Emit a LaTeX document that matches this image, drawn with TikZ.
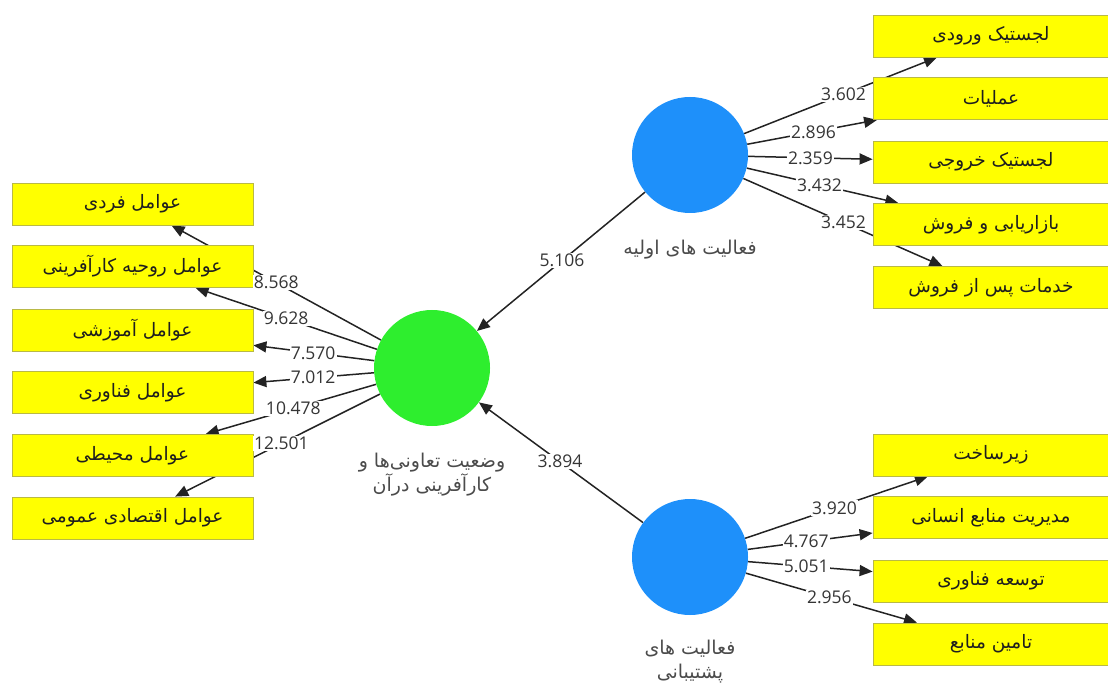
\documentclass[tikz,border=0pt]{standalone}
\usepackage{fontspec}
\usetikzlibrary{arrows.meta,calc}
\TeXXeTstate=1
\newfontfamily\fafont[Script=Arabic]{DejaVu Sans}
\newfontfamily\numfont{Open Sans}
\newcommand\rtl[1]{\beginR #1\endR}
\definecolor{boxyellow}{RGB}{255,255,0}
\definecolor{boxline}{RGB}{185,185,70}
\definecolor{lvgreen}{RGB}{46,238,46}
\definecolor{lvblue}{RGB}{30,144,250}
\definecolor{linecol}{RGB}{35,35,35}
\definecolor{txtcol}{RGB}{30,30,30}
\pgfdeclarelayer{edges}
\pgfsetlayers{edges,main}
\tikzset{
  indbox/.style={rectangle, draw=boxline, line width=0.8pt, fill=boxyellow,
    minimum width=241pt, minimum height=42pt, inner sep=0pt,
    font=\fafont\fontsize{18.5}{20}\selectfont, text=txtcol},
  rbox/.style={indbox, minimum width=236pt},
  lvnode/.style={circle, minimum size=116pt, inner sep=0pt},
  lvlabel/.style={align=center, font=\fafont\fontsize{19}{24}\selectfont, text=txtcol!80!white},
  wlabel/.style={fill=white, inner sep=1.2pt, font=\numfont\fontsize{17.5}{19}\selectfont, text=txtcol!90!white},
  conn/.style={draw=linecol, line width=1.5pt, -{Triangle[length=13pt,width=11pt]}},
}
\begin{document}
\begin{tikzpicture}[x=1pt,y=-1pt]
\useasboundingbox (0,0) rectangle (1108,684);
% latent variables
\node[lvnode, fill=lvgreen] (G) at (432,368) {};
\node[lvnode, fill=lvblue] (T) at (690,155) {};
\node[lvnode, fill=lvblue] (S) at (690,557) {};
\node[lvlabel] (Glab) at (432,475) {\rtl{وضعیت تعاونی‌ها و}\\\rtl{کارآفرینی درآن}};
\node[lvlabel] (Tlab) at (690,250) {\rtl{فعالیت های اولیه}};
\node[lvlabel] (Slab) at (690,662) {\rtl{فعالیت های}\\\rtl{پشتیبانی}};
% left indicators
\node[indbox] (L1) at (132.5,204) {\rtl{عوامل فردی}};
\node[indbox] (L2) at (132.5,266.5) {\rtl{عوامل روحیه کارآفرینی}};
\node[indbox] (L3) at (132.5,330) {\rtl{عوامل آموزشی}};
\node[indbox] (L4) at (132.5,392.5) {\rtl{عوامل فناوری}};
\node[indbox] (L5) at (132.5,455.5) {\rtl{عوامل محیطی}};
\node[indbox] (L6) at (132.5,518) {\rtl{عوامل اقتصادی عمومی}};
% right top indicators
\node[rbox] (R1) at (991,36) {\rtl{لجستیک ورودی}};
\node[rbox] (R2) at (991,98.5) {\rtl{عملیات}};
\node[rbox] (R3) at (991,162) {\rtl{لجستیک خروجی}};
\node[rbox] (R4) at (991,224.5) {\rtl{بازاریابی و فروش}};
\node[rbox] (R5) at (991,287.5) {\rtl{خدمات پس از فروش}};
% right bottom indicators
\node[rbox] (Q1) at (991,455) {\rtl{زیرساخت}};
\node[rbox] (Q2) at (991,517.5) {\rtl{مدیریت منابع انسانی}};
\node[rbox] (Q3) at (991,581) {\rtl{توسعه فناوری}};
\node[rbox] (Q4) at (991,644) {\rtl{تامین منابع}};
% connectors
\begin{pgfonlayer}{edges}
\foreach \b in {L1,L2,L3,L4,L5,L6} \draw[conn] (G) -- (\b);
\foreach \b in {R1,R2,R3,R4,R5} \draw[conn] (T) -- (\b);
\foreach \b in {Q1,Q2,Q3,Q4} \draw[conn] (S) -- (\b);
\draw[conn] (T) -- (G);
\draw[conn] (S) -- (G);
\end{pgfonlayer}
% weights
\node[wlabel] (w1) at ($(G)!0.52!(L1)$) {8.568};
\node[wlabel] (w2) at ($(G)!0.487!(L2)$) {9.628};
\node[wlabel] (w3) at ($(G)!0.397!(L3)$) {7.570};
\node[wlabel] (w4) at ($(G)!0.397!(L4)$) {7.012};
\node[wlabel] (w5) at ($(G)!0.463!(L5)$) {10.478};
\node[wlabel] (w6) at ($(G)!0.503!(L6)$) {12.501};
\node[wlabel] (v1) at ($(T)!0.51!(R1)$) {3.602};
\node[wlabel] (v2) at ($(T)!0.41!(R2)$) {2.896};
\node[wlabel] (v3) at ($(T)!0.40!(R3)$) {2.359};
\node[wlabel] (v4) at ($(T)!0.43!(R4)$) {3.432};
\node[wlabel] (v5) at ($(T)!0.51!(R5)$) {3.452};
\node[wlabel] (u1) at ($(S)!0.48!(Q1)$) {3.920};
\node[wlabel] (u2) at ($(S)!0.386!(Q2)$) {4.767};
\node[wlabel] (u3) at ($(S)!0.386!(Q3)$) {5.051};
\node[wlabel] (u4) at ($(S)!0.463!(Q4)$) {2.956};
\node[wlabel] (p1) at ($(T)!0.496!(G)$) {5.106};
\node[wlabel] (p2) at ($(S)!0.504!(G)$) {3.894};
\end{tikzpicture}
\end{document}
